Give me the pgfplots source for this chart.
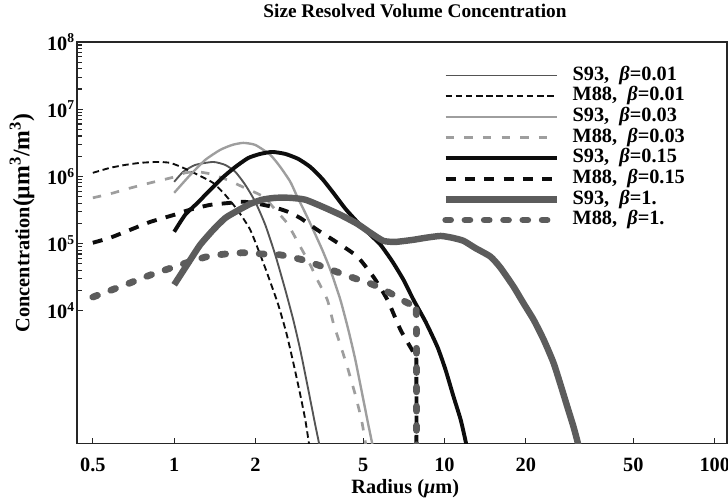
\documentclass[border=0pt]{standalone}
\usepackage{fontspec}
\setmainfont{Liberation Serif}
\usepackage{pgfplots}
\pgfplotsset{compat=1.18}

\definecolor{thingray}{gray}{0.33}
\definecolor{lightgray}{gray}{0.62}
\definecolor{darkline}{gray}{0.05}
\definecolor{thickgray}{gray}{0.36}

\begin{document}
\begin{tikzpicture}
\begin{loglogaxis}[
  scale only axis,
  width=384pt, height=237.4pt,
  xmin=0.437, xmax=111, ymin=105, ymax=1e8,
  axis line style={line width=0.8pt, black!85},
  xtick={0.5,1,2,5,10,20,50,100},
  xticklabels={0.5,1,2,5,10,20,50,100},
  ytick={1e4,1e5,1e6,1e7,1e8},
  yticklabels={10\textsuperscript{4},10\textsuperscript{5},10\textsuperscript{6},10\textsuperscript{7},10\textsuperscript{8}},
  minor xtick={}, minor ytick={},
  tick pos=left,
  tick align=inside,
  major tick length=3.5pt,
  tick style={line width=0.7pt, black!85},
  tick label style={font=\fontsize{12}{14}\selectfont\bfseries},
  xticklabel style={anchor=base, yshift=-16.5pt},
  yticklabel style={anchor=east, inner sep=1pt},
  title={Size Resolved Volume Concentration},
  title style={font=\fontsize{11.4}{13}\selectfont\bfseries, at={(axis description cs:0.52,1)}, anchor=base, yshift=8.3pt},
  xlabel={Radius (\textit{μ}m)},
  xlabel style={font=\fontsize{12}{14}\selectfont\bfseries, at={(axis description cs:0.505,0)}, anchor=base, yshift=-29.5pt},
  ylabel={Concentration{\fontsize{14}{14}\selectfont(μm\textsuperscript{3}/m\textsuperscript{3})}},
  ylabel style={font=\fontsize{12}{14}\selectfont\bfseries, at={(axis description cs:-0.0846,0.55)}, anchor=center},
  legend style={draw=none, fill=none, at={(axis description cs:0.5615,0.943)}, anchor=north west,
    inner sep=0pt, row sep=0pt, column sep=7pt,
    font=\fontsize{12}{12}\selectfont\bfseries,
    nodes={inner sep=0.5pt, text height=8.4pt, text depth=2.8pt}},
  legend cell align=left,
  legend image code/.code={\draw[#1] (0pt,0pt) -- (65.5pt,0pt);},
  every axis plot/.append style={smooth, tension=0.35},
]

% S93, beta = 0.01
\addplot[thingray, line width=1.1pt, mark=none] coordinates {
 (1,8.3e5) (1.08,1.17e6) (1.196,1.48e6) (1.394,1.64e6) (1.545,1.48e6)
 (1.683,1.17e6) (1.832,7.5e5) (1.995,4.2e5) (2.173,1.9e5) (2.366,6.8e4)
 (2.577,2.05e4) (2.759,7.3e3) (2.929,2.6e3) (3.135,6.7e2) (3.327,2.0e2)
 (3.474,85) (3.52,50)
};
\addlegendentry{S93,\ \ \textit{β}=0.01}

% M88, beta = 0.01
\addplot[darkline, line width=1.1pt, dash pattern=on 3.8pt off 2.2pt, mark=none] coordinates {
 (0.5,1.13e6) (0.579,1.34e6) (0.658,1.48e6) (0.748,1.59e6) (0.865,1.64e6)
 (0.966,1.59e6) (1.08,1.34e6) (1.227,1.05e6) (1.394,8.0e5) (1.545,5.3e5)
 (1.711,3.2e5) (1.912,1.6e5) (2.136,5.2e4) (2.287,2.44e4) (2.427,1.23e4)
 (2.60,4.7e3) (2.759,1.69e3) (2.929,5.6e2) (3.055,2.4e2) (3.16,1.0e2) (3.22,60)
};
\addlegendentry{M88,\ \ \textit{β}=0.01}

% S93, beta = 0.03
\addplot[lightgray, line width=1.4pt, mark=none] coordinates {
 (1,5.7e5) (1.146,1.05e6) (1.303,1.76e6) (1.48,2.48e6) (1.64,2.94e6)
 (1.80,3.15e6) (1.995,2.94e6) (2.268,2.09e6) (2.47,1.38e6) (2.69,8.3e5)
 (2.855,4.95e5) (3.055,2.86e5) (3.27,1.6e5) (3.53,8.1e4) (3.783,4.07e4)
 (4.12,1.46e4) (4.41,5.2e3) (4.68,1.87e3) (4.97,5.6e2) (5.23,2.0e2)
 (5.46,85) (5.52,50)
};
\addlegendentry{S93,\ \ \textit{β}=0.03}

% M88, beta = 0.03
\addplot[lightgray, line width=1.6pt, dash pattern=on 5pt off 6pt, mark=none] coordinates {
 (0.5,4.8e5) (0.579,5.5e5) (0.687,6.7e5) (0.815,8.0e5) (1,9.8e5)
 (1.098,1.13e6) (1.217,1.17e6) (1.359,1.09e6) (1.571,8.9e5) (1.832,6.7e5)
 (2.136,5.0e5) (2.366,3.2e5) (2.62,2.0e5) (2.929,9.0e4) (3.19,4.8e4)
 (3.385,2.9e4) (3.687,1.46e4) (3.88,6.6e3) (4.12,3.1e3) (4.37,1.47e3)
 (4.68,5.6e2) (4.93,2.4e2) (5.10,1.1e2) (5.18,60)
};
\addlegendentry{M88,\ \ \textit{β}=0.03}

% S93, beta = 0.15
\addplot[darkline, line width=2.3pt, mark=none] coordinates {
 (1,1.5e5) (1.098,2.68e5) (1.217,4.0e5) (1.359,6.3e5) (1.506,9.5e5)
 (1.683,1.38e6) (1.88,1.88e6) (2.082,2.16e6) (2.306,2.31e6) (2.577,2.16e6)
 (2.878,1.82e6) (3.19,1.38e6) (3.53,9.2e5) (3.88,5.7e5) (4.30,3.3e5)
 (4.76,2.1e5) (5.32,1.35e5) (5.80,9.6e4) (6.42,5.4e4) (7.05,2.9e4)
 (7.68,1.46e4) (8.51,6.9e3) (9.42,2.9e3) (10.09,1.33e3) (10.8,5.3e2)
 (11.48,2.4e2) (12.0,1.1e2) (12.2,72)
};
\addlegendentry{S93,\ \ \textit{β}=0.15}

% M88, beta = 0.15
\addplot[darkline, line width=2.3pt, dash pattern=on 5.9pt off 5.5pt, mark=none] coordinates {
 (0.5,1.03e5) (0.579,1.22e5) (0.687,1.6e5) (0.815,2.1e5) (1,2.68e5)
 (1.146,3.2e5) (1.359,3.77e5) (1.571,4.0e5) (1.80,4.2e5) (2.047,3.9e5)
 (2.327,3.5e5) (2.62,3.0e5) (2.929,2.4e5) (3.385,1.6e5) (4.02,1.03e5)
 (4.76,6.4e4) (5.46,3.2e4) (6.15,1.46e4) (6.88,5.2e3) (7.68,2.4e3)
 (7.87,1.8e3) (7.87,10)
};
\addlegendentry{M88,\ \ \textit{β}=0.15}

% S93, beta = 1
\addplot[thickgray, line width=3.8pt, mark=none] coordinates {
 (1,2.44e4) (1.146,5.7e4) (1.248,9.6e4) (1.394,1.6e5) (1.545,2.4e5)
 (1.711,3.07e5) (1.912,3.9e5) (2.117,4.5e5) (2.366,4.8e5) (2.69,4.8e5)
 (3.055,4.5e5) (3.56,3.5e5) (4.12,2.68e5) (4.76,1.97e5) (5.32,1.45e5)
 (5.94,1.1e5) (6.59,1.06e5) (7.68,1.14e5) (8.51,1.22e5) (9.68,1.3e5)
 (10.7,1.22e5) (11.76,1.1e5) (13.0,8.6e4) (14.8,6.4e4) (16.1,4.4e4)
 (18.0,2.3e4) (19.6,1.3e4) (21.4,7.3e3) (23.3,3.7e3) (25.3,1.7e3)
 (26.9,7.9e2) (28.5,3.7e2) (30.0,1.9e2) (31.3,1.0e2) (31.9,60)
};
\addlegendentry{S93,\ \ \textit{β}=1.}

% M88, beta = 1
\addplot[thickgray, line width=4pt, line cap=round, dash pattern=on 2.9pt off 8.5pt, mark=none] coordinates {
 (0.5,1.6e4) (0.579,2.0e4) (0.687,2.6e4) (0.815,3.4e4) (1,4.5e4)
 (1.146,5.4e4) (1.325,6.4e4) (1.545,7.0e4) (1.80,7.3e4) (2.117,7.0e4)
 (2.47,6.8e4) (3.005,5.7e4) (3.56,4.5e4) (4.49,3.2e4) (5.46,2.44e4)
 (6.47,1.73e4) (7.17,1.36e4) (7.61,1.19e4) (7.87,8.7e3) (7.87,10)
};
\addlegendentry{M88,\ \ \textit{β}=1.}

\end{loglogaxis}
\pgfresetboundingbox
\path (current axis.south west) ++(-45.5pt,-32pt) rectangle ([shift={(0.6pt,24.8pt)}]current axis.north east);
\end{tikzpicture}
\end{document}
